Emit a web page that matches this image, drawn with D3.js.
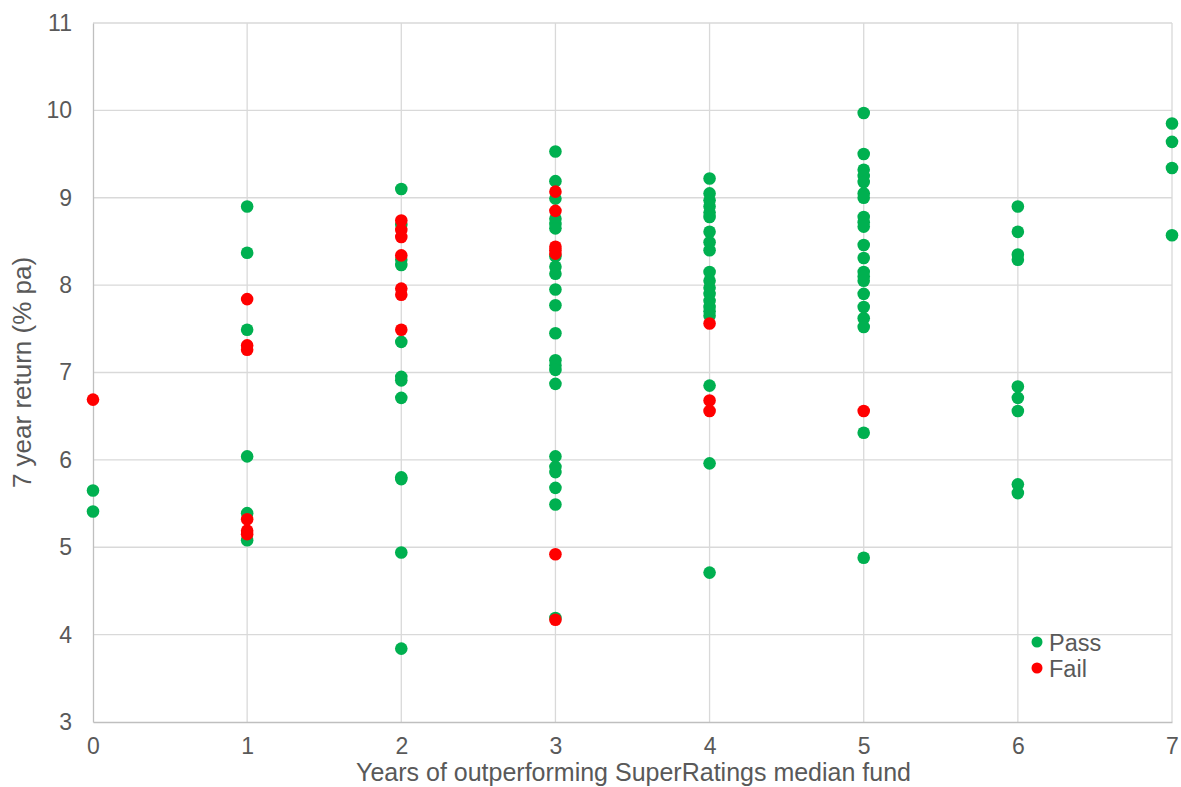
<!DOCTYPE html>
<html>
<head>
<meta charset="utf-8">
<script src="https://cdn.jsdelivr.net/npm/d3@7"></script>
<style>
  body { margin: 0; background: #fff; }
  text { font-family: "Liberation Sans", Arial, sans-serif; fill: #595959; }
</style>
</head>
<body>
<div id="chart-area"></div>
<script>
// years of outperforming the median fund (x categories)
var years = [0, 1, 2, 3, 4, 5, 6, 7];

// 7 year returns (% pa) of passing funds, one list per year count
var passReturns = [
  [5.65, 5.41],
  [8.90, 8.37, 7.49, 6.04, 5.39, 5.08],
  [9.10, 8.69, 8.29, 8.23, 7.35, 6.95, 6.91, 6.71, 5.80, 5.78, 4.94, 3.84],
  [9.53, 9.19, 8.99, 8.76, 8.70, 8.65, 8.33, 8.21, 8.13, 7.95, 7.77, 7.45,
   7.14, 7.08, 7.03, 6.87, 6.04, 5.92, 5.86, 5.68, 5.49, 4.19],
  [9.22, 9.05, 8.97, 8.90, 8.83, 8.78, 8.61, 8.49, 8.40, 8.15, 8.05, 7.97,
   7.90, 7.82, 7.75, 7.70, 7.65, 6.85, 5.96, 4.71],
  [9.97, 9.50, 9.32, 9.25, 9.18, 9.05, 9.00, 8.78, 8.72, 8.67, 8.46, 8.31,
   8.15, 8.10, 8.05, 7.90, 7.75, 7.62, 7.52, 6.31, 4.88],
  [8.90, 8.61, 8.35, 8.29, 6.84, 6.71, 6.56, 5.72, 5.62],
  [9.85, 9.64, 9.34, 8.57]
];

// 7 year returns (% pa) of failing funds
var failReturns = [
  [6.69],
  [7.84, 7.31, 7.26, 5.32, 5.19, 5.15],
  [8.74, 8.63, 8.55, 8.34, 7.96, 7.89, 7.49],
  [9.07, 8.85, 8.44, 8.40, 8.36, 4.92, 4.17],
  [7.56, 6.68, 6.56],
  [6.56],
  [],
  []
];

var yTicks = [3, 4, 5, 6, 7, 8, 9, 10, 11];
var seriesNames = ["Pass", "Fail"];
var seriesColors = ["#00b050", "#ff0000"];

var margin = { top: 23, right: 9, bottom: 65, left: 93 };
var width = 1181 - margin.left - margin.right;
var height = 787 - margin.top - margin.bottom;

var svg = d3.select("#chart-area").append("svg")
    .attr("width", 1181)
    .attr("height", 787);

var g = svg.append("g")
    .attr("transform", "translate(" + margin.left + ", " + margin.top + ")");

var x = d3.scaleLinear().domain([0, 7]).range([0, width]);
var y = d3.scaleLinear().domain([3, 11]).range([height, 0]);

// gridlines
g.selectAll(".hgrid").data(yTicks.slice(1)).enter().append("line")
    .attr("x1", 0).attr("x2", width)
    .attr("y1", d => y(d)).attr("y2", d => y(d))
    .attr("stroke", "#d9d9d9").attr("stroke-width", 1.3);

g.selectAll(".vgrid").data(years.slice(1)).enter().append("line")
    .attr("x1", d => x(d)).attr("x2", d => x(d))
    .attr("y1", 0).attr("y2", height)
    .attr("stroke", "#d9d9d9").attr("stroke-width", 1.3);

// axes
var xAxisGroup = g.append("g")
    .attr("transform", "translate(0," + height + ")")
    .call(d3.axisBottom(x).tickValues(years).tickSize(0).tickPadding(16).tickFormat(d3.format("d")));
var yAxisGroup = g.append("g")
    .call(d3.axisLeft(y).tickValues(yTicks).tickSize(0).tickPadding(21).tickFormat(d3.format("d")));

[xAxisGroup, yAxisGroup].forEach(function(ax) {
    ax.select(".domain").attr("stroke", "#bfbfbf").attr("stroke-width", 1.3);
    ax.selectAll("text").attr("font-size", "23px")
        .attr("font-family", "'Liberation Sans', Arial, sans-serif")
        .attr("fill", "#595959");
});

g.append("text")
    .attr("x", width / 2 + 1)
    .attr("y", height + 58.5)
    .attr("font-size", "25px")
    .attr("text-anchor", "middle")
    .text("Years of outperforming SuperRatings median fund");

g.append("text")
    .attr("x", -(height / 2))
    .attr("y", -62)
    .attr("font-size", "26px")
    .attr("text-anchor", "middle")
    .attr("transform", "rotate(-90)")
    .text("7 year return (% pa)");

// points
var passData = years.flatMap((yr, i) => passReturns[i].map(v => ({ x: yr, y: v })));
var failData = years.flatMap((yr, i) => failReturns[i].map(v => ({ x: yr, y: v })));

g.selectAll(".pass").data(passData).enter().append("circle")
    .attr("cx", d => x(d.x))
    .attr("cy", d => y(d.y))
    .attr("r", 6.3)
    .attr("fill", seriesColors[0]);

g.selectAll(".fail").data(failData).enter().append("circle")
    .attr("cx", d => x(d.x))
    .attr("cy", d => y(d.y))
    .attr("r", 6.3)
    .attr("fill", seriesColors[1]);

// legend
var legend = svg.append("g").attr("transform", "translate(1037, 642)");
seriesNames.forEach(function(name, i) {
    legend.append("circle")
        .attr("cx", 0).attr("cy", i * 26)
        .attr("r", 5.5).attr("fill", seriesColors[i]);
    legend.append("text")
        .attr("x", 12).attr("y", i * 26 + 8.5)
        .attr("font-size", "23.5px")
        .text(name);
});
</script>
</body>
</html>
